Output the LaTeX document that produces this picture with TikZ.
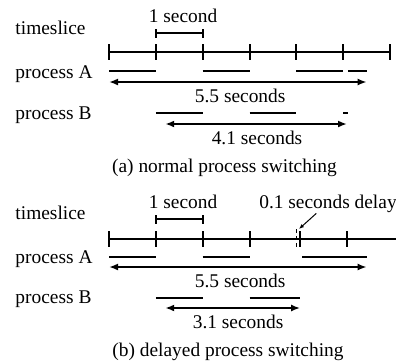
\documentclass[tikz,border=0pt]{standalone}
\usepackage{fontspec}
\setmainfont{Liberation Serif}
\usetikzlibrary{arrows.meta,positioning,calc}

\begin{document}
\begin{tikzpicture}[x=46.85bp,y=-1bp,font=\fontsize{19.4bp}{23bp}\selectfont]
  \tikzstyle{lbl}=[inner sep=0pt,anchor=base]
  \tikzstyle{row}=[inner sep=0pt,anchor=base west]
  \tikzstyle{bar}=[line width=2bp]
  \tikzstyle{span}=[line width=2bp,{Latex[length=9bp,width=7bp]}-{Latex[length=9bp,width=7bp]}]
  \useasboundingbox ({-109/46.85},0) rectangle ({287/46.85},362);

  % (a) normal process switching
  \node[row] (tsa) at (-2.0,34) {timeslice};
  \node[row] (pAa) at (-2.0,78) {process A};
  \node[row] (pBa) at (-2.0,119) {process B};

  \draw[bar] (0,52) -- (6,52);
  \foreach \t in {0,...,6}
    \draw[bar] (\t,44) -- (\t,60);
  \draw[bar] (1,33) -- (2,33) (1,29) -- (1,38) (2,29) -- (2,38);
  \node[lbl] (seca) at (1.58,22) {1 second};

  \foreach \a/\b in {0/1,2/3,4/5,5.1/5.5}
    \draw[bar] (\a,71) -- (\b,71);
  \coordinate (As) at (0,82);
  \coordinate (Ae) at (5.5,82);
  \draw[span] (As) -- (Ae);
  \node[lbl] (Ata) at (2.8,102) {5.5 seconds};

  \foreach \a/\b in {1/2,3/4,5/5.1}
    \draw[bar] (\a,113) -- (\b,113);
  \coordinate (Bs) at (1.2,124);
  \coordinate (Be) at (5.08,124);
  \draw[span] (Bs) -- (Be);
  \node[lbl] (Bta) at (3.16,144) {4.1 seconds};

  \node[lbl] (capa) at (2.465,172) {(a) normal process switching};

  % (b) delayed process switching
  \node[row] (tsb) at (-2.0,219) {timeslice};
  \node[row] (pAb) at (-2.0,263) {process A};
  \node[row] (pBb) at (-2.0,303) {process B};

  \draw[bar] (0,239) -- (6.2,239);
  \foreach \t in {0,1,2,3,4.08,5.08}
    \draw[bar] (\t,231) -- (\t,247);
  \draw[line width=1.2bp,dash pattern=on 4bp off 3bp] (4,229) -- (4,247);
  \draw[bar] (1,219) -- (2,219) (1,215) -- (1,224) (2,215) -- (2,224);
  \node[lbl] (secb) at (1.58,208) {1 second};
  \node[lbl] (delay) at (4.675,208) {0.1 seconds delay};
  \coordinate (dtip) at (4.055,229);
  \draw[line width=1bp,-{Latex[length=5bp,width=4bp]}] ($(delay.south)+(-0.25,1)$) -- (dtip);

  \foreach \a/\b in {0/1,2/3,4.12/5.5}
    \draw[bar] (\a,257) -- (\b,257);
  \coordinate (As2) at (0,267);
  \coordinate (Ae2) at (5.5,267);
  \draw[span] (As2) -- (Ae2);
  \node[lbl] (Atb) at (2.8,287) {5.5 seconds};

  \foreach \a/\b in {1/2,3/4.08}
    \draw[bar] (\a,298) -- (\b,298);
  \coordinate (Bs2) at (1.2,308);
  \coordinate (Be2) at (4.08,308);
  \draw[span] (Bs2) -- (Be2);
  \node[lbl] (Btb) at (2.755,328) {3.1 seconds};

  \node[lbl] (capb) at (2.54,356) {(b) delayed process switching};
\end{tikzpicture}
\end{document}
